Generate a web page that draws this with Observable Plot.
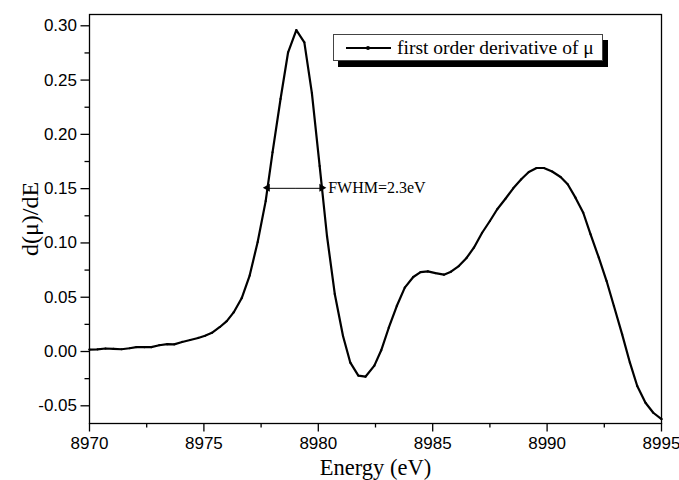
<!DOCTYPE html>
<html>
<head>
<meta charset="utf-8">
<script src="https://cdn.jsdelivr.net/npm/d3@7"></script>
<script src="https://cdn.jsdelivr.net/npm/@observablehq/plot@0.6"></script>
<style>
  html, body { margin: 0; padding: 0; background: #fff; }
  #wrap { position: relative; width: 679px; height: 480px; }
  #legend {
    position: absolute; left: 333px; top: 34px; width: 268px; height: 25px;
    border: 1px solid #444; background: #fff; box-shadow: 5px 6px 0 #000;
    font-family: "Liberation Serif", "Times New Roman", serif; font-size: 19.5px;
    display: flex; align-items: center; box-sizing: content-box;
  }
  #legend .sw { position: relative; width: 45px; height: 2px; background: #000; margin-left: 12px; margin-right: 6px; }
  #legend .sw::after { content: ""; position: absolute; left: 20px; top: -1px; width: 4px; height: 4px; border-radius: 2px; background: #000; }
</style>
</head>
<body>
<div id="wrap">
  <div id="chart"></div>
  <div id="legend"><span class="sw"></span><span id="legtext"></span></div>
</div>
<script>
const seriesName = "first order derivative of μ";
const xTitle = "Energy (eV)";
const yTitle = "d(μ)/dE";
const fwhmLabel = "FWHM=2.3eV";

const energy = [
  8970.00, 8970.35, 8970.70, 8971.05, 8971.40, 8971.75, 8972.05, 8972.40, 8972.70, 8973.05,
  8973.40, 8973.70, 8974.05, 8974.40, 8974.75, 8975.05, 8975.35, 8975.70, 8976.00, 8976.30,
  8976.65, 8977.00, 8977.35, 8977.70, 8978.00, 8978.35, 8978.68, 8979.04, 8979.39, 8979.72,
  8980.06, 8980.38, 8980.72, 8981.08, 8981.40, 8981.75, 8982.06, 8982.45, 8982.75, 8983.08,
  8983.43, 8983.78, 8984.15, 8984.47, 8984.79, 8985.12, 8985.49, 8985.80, 8986.14, 8986.48,
  8986.80, 8987.16, 8987.50, 8987.82, 8988.18, 8988.52, 8988.87, 8989.20, 8989.54, 8989.86,
  8990.22, 8990.59, 8990.90, 8991.24, 8991.58, 8991.90, 8992.26, 8992.60, 8992.92, 8993.28,
  8993.62, 8993.94, 8994.30, 8994.64, 8995.00
];
const dmu = [
  0.0018, 0.0020, 0.0028, 0.0024, 0.0021, 0.0030, 0.0041, 0.0040, 0.0040, 0.0058,
  0.0068, 0.0066, 0.0088, 0.0106, 0.0125, 0.0145, 0.0172, 0.0226, 0.0280, 0.0360,
  0.0490, 0.0700, 0.1008, 0.1385, 0.1835, 0.2326, 0.2756, 0.2960, 0.2848, 0.2380,
  0.1708, 0.1064, 0.0530, 0.0143, -0.0103, -0.0222, -0.0232, -0.0130, 0.0011, 0.0219,
  0.0419, 0.0588, 0.0686, 0.0732, 0.0738, 0.0722, 0.0708, 0.0735, 0.0787, 0.0862,
  0.0956, 0.1094, 0.1202, 0.1310, 0.1407, 0.1503, 0.1586, 0.1653, 0.1690, 0.1690,
  0.1658, 0.1607, 0.1540, 0.1417, 0.1278, 0.1079, 0.0864, 0.0649, 0.0419, 0.0158,
  -0.0103, -0.0318, -0.0472, -0.0564, -0.0622
];

const xMajor = [8970, 8975, 8980, 8985, 8990, 8995];
const xMinor = [8972.5, 8977.5, 8982.5, 8987.5, 8992.5];
const yMajor = [-0.05, 0, 0.05, 0.10, 0.15, 0.20, 0.25, 0.30];
const yMinor = [-0.025, 0.025, 0.075, 0.125, 0.175, 0.225, 0.275];

// FWHM annotation (half maximum level and the two crossing energies)
const halfMax = [0.1503];
const fwhmEdges = [8977.80, 8980.17];

const table = energy.map((e, i) => ({e, v: dmu[i]}));
const fwhmMid = (fwhmEdges[0] + fwhmEdges[1]) / 2;
const fwhmSegs = fwhmEdges.map(e => ({x1: fwhmMid, x2: e, y: halfMax[0]}));
const fwhmHeads = fwhmEdges.map((e, i) => ({x: e, y: halfMax[0], rot: i === 0 ? -90 : 90, dx: i === 0 ? 4 : -4}));

const sans = "'Liberation Sans', Arial, sans-serif";
const serif = "'Liberation Serif', 'Times New Roman', serif";

const chart = Plot.plot({
  width: 679,
  height: 480,
  marginLeft: 89,
  marginRight: 18,
  marginTop: 14,
  marginBottom: 57,
  style: {background: "#fff", color: "#000", fontFamily: sans},
  x: {domain: [8970, 8995], label: null},
  y: {domain: [-0.0663, 0.3104], label: null},
  marks: [
    Plot.axisX({ticks: xMajor, tickSize: 8.5, tickPadding: 5, fontSize: 17, tickFormat: d => String(d), stroke: "#000", strokeWidth: 1.3, fill: "#000"}),
    Plot.axisX({ticks: xMinor, tickSize: 4.5, tickFormat: () => "", stroke: "#000", strokeWidth: 1.3}),
    Plot.axisY({ticks: yMajor, tickSize: 8.5, tickPadding: 4, fontSize: 17, tickFormat: d => d.toFixed(2), stroke: "#000", strokeWidth: 1.3, fill: "#000"}),
    Plot.axisY({ticks: yMinor, tickSize: 4.5, tickFormat: () => "", stroke: "#000", strokeWidth: 1.3}),
    Plot.frame({stroke: "#000", strokeWidth: 1.3}),
    Plot.line(table, {x: "e", y: "v", stroke: "#000", strokeWidth: 2.2}),
    Plot.dot(table, {x: "e", y: "v", r: 1.1, fill: "#000", stroke: "none"}),
    Plot.link(fwhmSegs, {x1: "x1", x2: "x2", y1: "y", y2: "y", stroke: "#000", strokeWidth: 1}),
    Plot.dot(fwhmHeads, {x: "x", y: "y", dx: "dx", symbol: "triangle", r: 3, rotate: "rot", fill: "#000", stroke: "none"}),
    Plot.text([fwhmLabel], {x: fwhmEdges[1], y: halfMax[0], text: d => d, dx: 6, textAnchor: "start", fontFamily: serif, fontSize: 16, fill: "#000"}),
    Plot.text([xTitle], {frameAnchor: "bottom", dy: 44, text: d => d, fontFamily: serif, fontSize: 22.5, fill: "#000", lineAnchor: "middle"}),
    Plot.text([yTitle], {frameAnchor: "left", dx: -59, rotate: -90, text: d => d, textAnchor: "middle", fontFamily: serif, fontSize: 24, fill: "#000", lineAnchor: "middle"})
  ]
});
document.getElementById("chart").appendChild(chart);
document.getElementById("legtext").textContent = seriesName;
</script>
</body>
</html>
